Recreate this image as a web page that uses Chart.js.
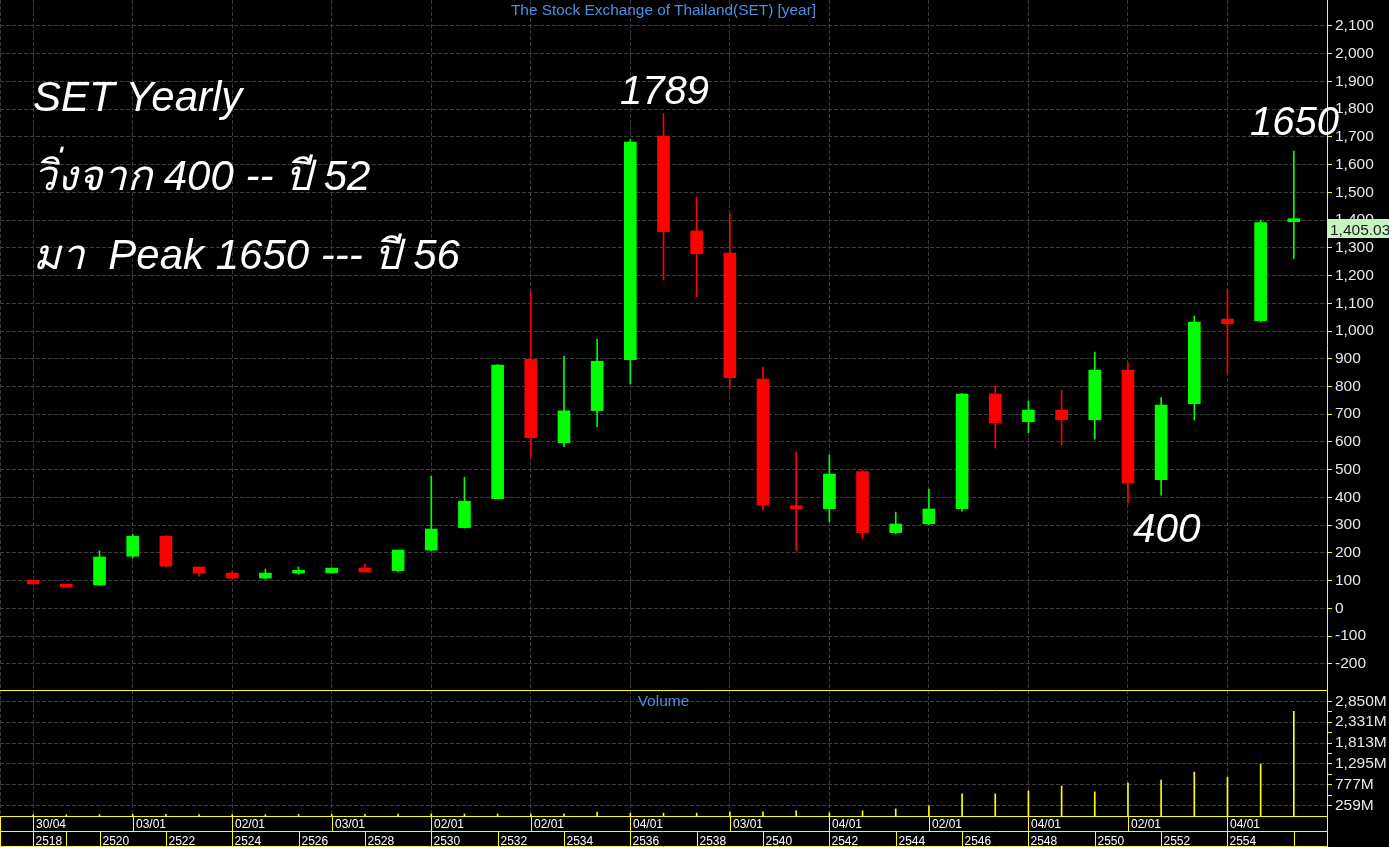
<!DOCTYPE html>
<html>
<head>
<meta charset="utf-8">
<script src="https://cdn.jsdelivr.net/npm/chart.js@4.4.1/dist/chart.umd.min.js"></script>
<style>
  html, body { margin: 0; padding: 0; background: #000; }
  body { width: 1389px; height: 847px; position: relative; overflow: hidden; font-family: "Liberation Sans", Arial, sans-serif; }
  canvas { position: absolute; left: 0; }
  #price { top: 0; }
  #volume { top: 690px; }
  .note { position: absolute; color: #fff; font-style: italic; white-space: pre; }
  .blue { position: absolute; color: #4a90e2; white-space: nowrap; text-align: center; left: 0; width: 1327px; }
</style>
</head>
<body>
<canvas id="price" width="1389" height="690"></canvas>
<canvas id="volume" width="1389" height="157"></canvas>

<div class="blue" style="top:2px;font-size:15.4px;line-height:15.4px">The Stock Exchange of Thailand(SET) [year]</div>
<div class="blue" style="top:693px;font-size:15.5px;line-height:15.5px">Volume</div>

<div class="note" style="left:33px;top:76px;font-size:42px;line-height:42px">SET Yearly</div>
<div class="note" style="left:33px;top:155px;font-size:42px;line-height:42px">วิ่งจาก 400 -- ปี 52</div>
<div class="note" style="left:33px;top:234px;font-size:42px;line-height:42px">มา  Peak 1650 --- ปี 56</div>
<div class="note" style="left:620px;top:70px;font-size:40px;line-height:40px">1789</div>
<div class="note" style="left:1250px;top:101px;font-size:40px;line-height:40px">1650</div>
<div class="note" style="left:1133px;top:508px;font-size:40.5px;line-height:40.5px">400</div>

<script>
// yearly candles, Thai years
const years = [2518, 2519, 2520, 2521, 2522, 2523, 2524, 2525, 2526, 2527,
  2528, 2529, 2530, 2531, 2532, 2533, 2534, 2535, 2536, 2537,
  2538, 2539, 2540, 2541, 2542, 2543, 2544, 2545, 2546, 2547,
  2548, 2549, 2550, 2551, 2552, 2553, 2554, 2555, 2556];
const opens = [101, 87, 84, 188, 260, 149, 127, 109, 127, 128,
  145, 136, 210, 291, 395, 898, 597, 713, 897, 1703,
  1361, 1281, 827, 370, 359, 493, 273, 305, 359, 773,
  673, 715, 680, 859, 464, 738, 1043, 1037, 1394];
const highs = [101, 88, 207, 268, 262, 150, 135, 142, 149, 145,
  160, 210, 476, 473, 879, 1143, 910, 971, 1691, 1785,
  1483, 1423, 870, 564, 553, 499, 347, 430, 775, 802,
  748, 787, 924, 885, 760, 1054, 1151, 1400, 1649];
const lows = [88, 76, 83, 182, 149, 116, 106, 105, 123, 127,
  131, 131, 207, 289, 393, 545, 583, 655, 809, 1184,
  1123, 791, 354, 207, 311, 251, 269, 302, 350, 578,
  633, 589, 610, 380, 408, 679, 845, 1033, 1261];
const closes = [88, 77, 185, 260, 152, 127, 109, 127, 137, 145,
  131, 210, 286, 386, 877, 615, 712, 891, 1681, 1358,
  1279, 832, 372, 359, 484, 273, 304, 358, 773, 669,
  715, 680, 859, 453, 733, 1032, 1026, 1391, 1405.03];
// volume in millions
const volumes = [30, 30, 35, 40, 40, 35, 35, 35, 40, 40,
  40, 45, 50, 50, 50, 50, 55, 95, 70, 70,
  70, 95, 105, 130, 80, 130, 175, 250, 550, 550,
  625, 745, 600, 820, 895, 1090, 965, 1290, 2600];

const priceTicks = [-200, -100, 0, 100, 200, 300, 400, 500, 600, 700, 800, 900, 1000,
  1100, 1200, 1300, 1400, 1500, 1600, 1700, 1800, 1900, 2000, 2100];
const volTicks = [259, 777, 1295, 1813, 2331, 2850];
const volTickLabels = ['259M', '777M', '1,295M', '1,813M', '2,331M', '2,850M'];
const gridIdx = [-1, 0, 3, 6, 9, 12, 15, 18, 21, 24, 27, 30, 33, 36];
const dateIdx = [0, 3, 6, 9, 12, 15, 18, 21, 24, 27, 30, 33, 36];
const dateLabels = ['30/04', '03/01', '02/01', '03/01', '02/01', '02/01', '04/01',
  '03/01', '04/01', '02/01', '04/01', '02/01', '04/01'];
const yearSepIdx = [0, 1, 2, 4, 6, 8, 10, 12, 14, 16, 18, 20, 22, 24, 26, 28, 30, 32, 34, 36, 38];
const yearLabelIdx = [0, 2, 4, 6, 8, 10, 12, 14, 16, 18, 20, 22, 24, 26, 28, 30, 32, 34, 36];

const UP = "#00ff00", DOWN = "#ff0000", YEL = "#ffff00";
const GRID_H = "#3c3f3c", GRID_V = "#3b3545";
const AXIS_W = 62;

Chart.defaults.font.family = '"Liberation Sans", Arial, sans-serif';
Chart.defaults.animation = false;
Chart.defaults.plugins.legend.display = false;
Chart.defaults.plugins.tooltip.enabled = false;

const candleColor = closes.map((c, i) => (c >= opens[i] ? UP : DOWN));

function xAxis() {
  return {
    type: "linear", min: -1, max: 39, offset: false,
    afterBuildTicks: (s) => { s.ticks = gridIdx.map((v) => ({ value: v })); },
    afterFit: (s) => { s.height = 0; s.paddingLeft = 0; s.paddingRight = 0; },
    ticks: { display: false },
    grid: { color: GRID_V, drawTicks: false, offset: false },
    border: { display: false, dash: [4, 2] },
  };
}

const lastValue = {
  id: "lastValue",
  afterDraw(chart) {
    const { ctx, scales: { y } } = chart;
    const py = Math.round(y.getPixelForValue(closes[closes.length - 1]));
    ctx.save();
    ctx.fillStyle = "#c6f5c2";
    ctx.fillRect(1328, py, 61, 19);
    ctx.fillStyle = "#1a1a1a";
    ctx.font = '15.5px "Liberation Sans", Arial, sans-serif';
    ctx.textBaseline = "alphabetic";
    ctx.fillText("1,405.03", 1330, py + 16);
    ctx.restore();
  },
};

new Chart(document.getElementById("price"), {
  type: "bar",
  data: {
    datasets: [
      {
        data: years.map((_, i) => ({ x: i, y: [opens[i], closes[i]] })),
        backgroundColor: candleColor,
        barThickness: 12, grouped: false, borderWidth: 0,
      },
      {
        data: years.map((_, i) => ({ x: i, y: [lows[i], highs[i]] })),
        backgroundColor: candleColor,
        barThickness: 1, grouped: false, borderWidth: 0,
      },
    ],
  },
  options: {
    responsive: false,
    layout: { padding: 0 },
    scales: {
      x: xAxis(),
      y: {
        position: "right", min: -294.6, max: 2193.7,
        afterBuildTicks: (s) => { s.ticks = priceTicks.map((v) => ({ value: v })); },
        afterFit: (s) => { s.width = AXIS_W; s.paddingTop = 0; s.paddingBottom = 0; },
        ticks: {
          color: "#e6e6ec", padding: 3, autoSkip: false,
          font: { size: 15.5 },
          callback: (v) => v.toLocaleString("en-US"),
        },
        grid: { color: GRID_H, tickColor: YEL, tickLength: 5 },
        border: { color: YEL, width: 1, dash: [4, 2] },
      },
    },
  },
  plugins: [lastValue],
});

const dateRows = {
  id: "dateRows",
  afterDraw(chart) {
    const { ctx, chartArea, scales: { x } } = chart;
    const px = (i) => Math.round(x.getPixelForValue(i)) + 0.5;
    const right = chartArea.right + 0.5;
    const y0 = chartArea.bottom + 0.5, y1 = y0 + 15, y2 = y0 + 30;
    ctx.save();
    ctx.strokeStyle = YEL;
    ctx.lineWidth = 1;
    ctx.beginPath();
    [0.5, y0, y1, y2].forEach((yy) => { ctx.moveTo(0, yy); ctx.lineTo(right, yy); });
    [0.5, ...dateIdx.map(px), right].forEach((xx) => { ctx.moveTo(xx, y0); ctx.lineTo(xx, y1); });
    [0.5, ...yearSepIdx.map(px), right].forEach((xx) => { ctx.moveTo(xx, y1); ctx.lineTo(xx, y2); });
    ctx.moveTo(right, y0); ctx.lineTo(right, chart.height);
    ctx.stroke();
    ctx.fillStyle = "#ffffff";
    ctx.font = '12px "Liberation Sans", Arial, sans-serif';
    dateIdx.forEach((i, k) => ctx.fillText(dateLabels[k], px(i) + 2.5, y0 + 11.5));
    yearLabelIdx.forEach((i) => ctx.fillText(String(years[i]), px(i) + 2, y1 + 13));
    ctx.restore();
  },
};

const volMinor = volTicks.slice(1).map((v, k) => (v + volTicks[k]) / 2);

new Chart(document.getElementById("volume"), {
  type: "bar",
  data: {
    datasets: [
      {
        data: years.map((_, i) => ({ x: i, y: volumes[i] })),
        backgroundColor: YEL,
        barThickness: 1, grouped: false, borderWidth: 0,
      },
    ],
  },
  options: {
    responsive: false,
    layout: { padding: { top: 0, bottom: 31, left: 0, right: 0 } },
    scales: {
      x: xAxis(),
      y: {
        position: "right", min: 0, max: 3130,
        afterBuildTicks: (s) => {
          s.ticks = [...volTicks, ...volMinor].sort((a, b) => a - b).map((v) => ({ value: v }));
        },
        afterFit: (s) => { s.width = AXIS_W; s.paddingTop = 0; s.paddingBottom = 0; },
        ticks: {
          color: "#e6e6ec", padding: 3, autoSkip: false,
          font: { size: 15.5 },
          callback: (v) => {
            const k = volTicks.indexOf(v);
            return k >= 0 ? volTickLabels[k] : "";
          },
        },
        grid: {
          color: (c) => (c.tick && volTicks.includes(c.tick.value) ? GRID_H : "rgba(0,0,0,0)"),
          tickColor: YEL, tickLength: 5,
        },
        border: { color: YEL, width: 1, dash: [4, 2] },
      },
    },
  },
  plugins: [dateRows],
});
</script>
</body>
</html>
